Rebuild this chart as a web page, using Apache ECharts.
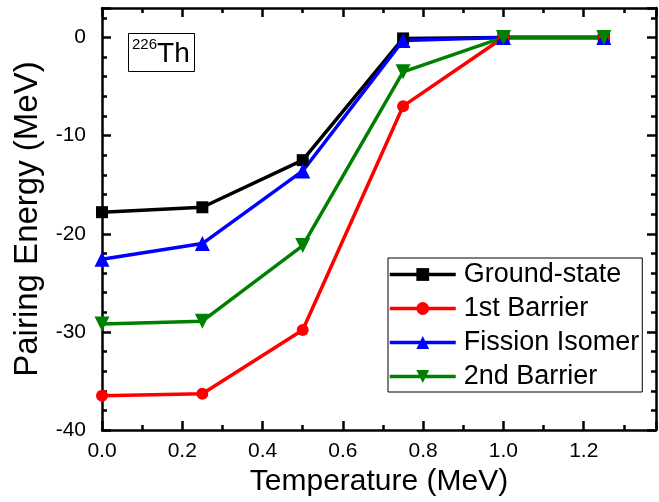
<!DOCTYPE html>
<html><head><meta charset="utf-8">
<script src="https://cdn.jsdelivr.net/npm/echarts@6/dist/echarts.min.js"></script>
<style>html,body{margin:0;padding:0;background:#fff}#c{width:659px;height:502px}</style>
</head><body><div id="c"></div>
<script>
const temps = [0.0, 0.25, 0.5, 0.75, 1.0, 1.25];
const groundState = [-17.8, -17.3, -12.5, -0.1, 0, 0];
const firstBarrier = [-36.5, -36.3, -29.8, -7.0, 0, 0];
const fissionIsomer = [-22.6, -21.0, -13.6, -0.3, 0, 0];
const secondBarrier = [-29.2, -28.9, -21.2, -3.5, 0, 0];
const seriesNames = ['Ground-state', '1st Barrier', 'Fission Isomer', '2nd Barrier'];

const chart = echarts.init(document.getElementById('c'));
const font = 'Liberation Sans, Arial, sans-serif';
function pts(v){ return temps.map((t,i)=>[t, v[i]]); }
function mk(name, data, color, symbol, size, rot){
  return {name, type:'line', data: pts(data), symbol, symbolSize:size, symbolRotate: rot||0,
    lineStyle:{color, width:3.5}, itemStyle:{color}, z:3};
}
const axisCommon = {
  axisLine:{show:true, onZero:false, lineStyle:{color:'#000', width:2.5}},
  axisTick:{show:true, inside:true, length:9, lineStyle:{color:'#000', width:2.5}},
  splitLine:{show:false}
};
function minor(n){ return {minorTick:{show:true, splitNumber:n, length:5, lineStyle:{color:'#000', width:2.5}}}; }
chart.setOption({
  animation:false,
  backgroundColor:'#fff',
  grid:{left:102, right:3, top:8, bottom:71},
  title:{
    text:'{sup|226}{b|Th}', left:128, top:33, padding:[4,5,4,4],
    borderColor:'#000', borderWidth:1,
    textStyle:{fontWeight:'normal', rich:{
      sup:{fontFamily:font, fontSize:15, fontWeight:'normal', color:'#000', verticalAlign:'top', lineHeight:22, padding:[0,0,12,0]},
      b:{fontFamily:font, fontSize:28, fontWeight:'normal', color:'#000', lineHeight:34}
    }}
  },
  legend:{
    orient:'vertical', left:388, top:258, itemWidth:66, itemHeight:16, itemGap:7,
    borderColor:'#000', borderWidth:1, padding:[3,3,2,0],
    lineStyle:{width:3.5},
    textStyle:{fontFamily:font, fontSize:27, color:'#000', padding:[0,0,0,3]},
    data: seriesNames
  },
  xAxis:[
    Object.assign({type:'value', min:0, max:1.38, interval:0.2,
      axisLabel:{fontFamily:font, fontSize:21, color:'#000', margin:11, showMaxLabel:false,
        formatter:v=>v.toFixed(1)},
      name:'Temperature (MeV)', nameLocation:'middle', nameGap:35,
      nameTextStyle:{fontFamily:font, fontSize:30, color:'#000'}}, axisCommon, minor(2)),
    Object.assign({type:'value', position:'top', min:0, max:1.38, interval:0.2,
      axisLabel:{show:false}}, axisCommon, minor(2))
  ],
  yAxis:[
    Object.assign({type:'value', min:-40, max:3, interval:10,
      axisLabel:{fontFamily:font, fontSize:21, color:'#000', margin:16, showMaxLabel:false},
      name:'Pairing Energy (MeV)', nameLocation:'middle', nameGap:58,
      nameTextStyle:{fontFamily:font, fontSize:33, color:'#000'}}, axisCommon, minor(5)),
    Object.assign({type:'value', position:'right', min:-40, max:3, interval:10,
      axisLabel:{show:false}}, axisCommon, minor(5))
  ],
  series:[
    mk(seriesNames[0], groundState, '#000000', 'rect', 12),
    mk(seriesNames[1], firstBarrier, '#ff0000', 'circle', 12),
    mk(seriesNames[2], fissionIsomer, '#0000ff', 'triangle', 15),
    mk(seriesNames[3], secondBarrier, '#008000', 'triangle', 15, 180)
  ]
});
</script></body></html>
